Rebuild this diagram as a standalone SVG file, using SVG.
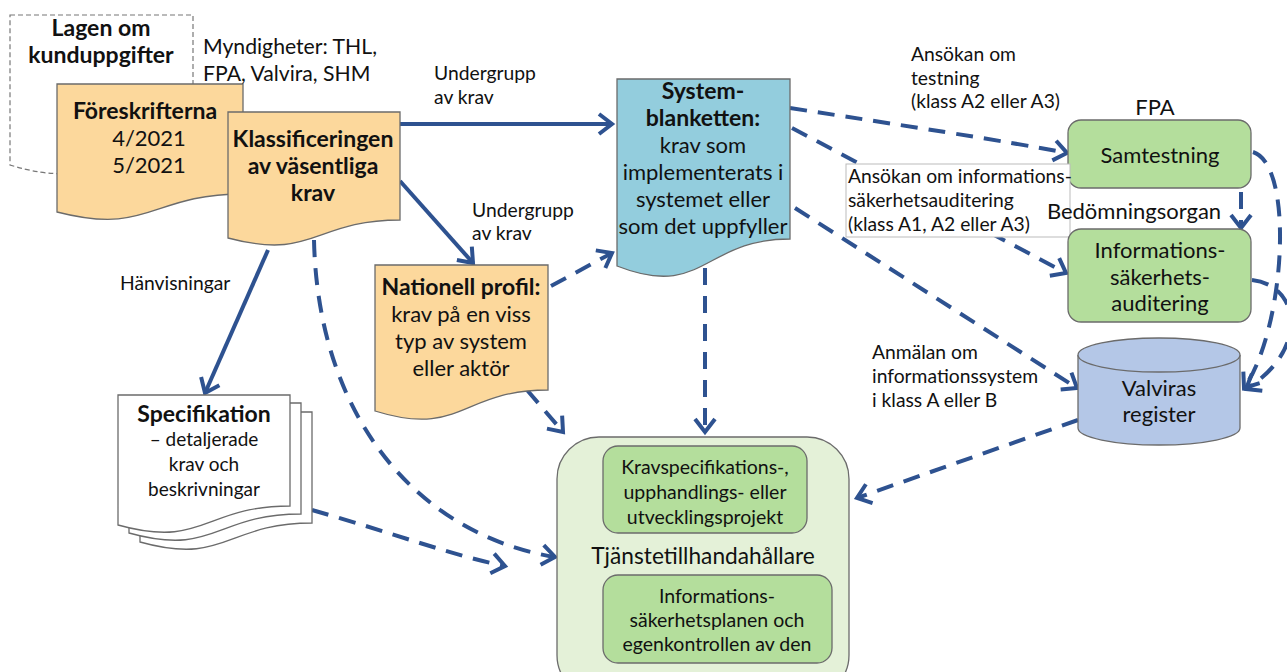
<svg xmlns="http://www.w3.org/2000/svg" width="1287" height="672" viewBox="0 0 1287 672">
<defs>
<style>
text{font-family:Lato,"Liberation Sans",sans-serif;fill:#111;}
.n{font-size:22px;text-anchor:middle;}
.b{font-weight:bold;font-size:23px;}
.s{font-size:19px;}
.l{font-size:19.3px;}
.doc{stroke:#6b6b6b;stroke-width:1.3;}
.or{fill:#FCD89C;}
.c{fill:none;stroke:#2E5290;stroke-width:4;}
.d{stroke-dasharray:17 11;}
.g{fill:#B4DE9C;stroke:#6b6b6b;stroke-width:1.3;}
</style>
<marker id="ah" markerUnits="userSpaceOnUse" markerWidth="30" markerHeight="30" viewBox="-20 -15 30 30" refX="0" refY="0" orient="auto">
<path d="M-13,-10 L0,0 L-13,10" fill="none" stroke="#2E5290" stroke-width="4" stroke-dasharray="none"/>
</marker>
</defs>
<rect width="1287" height="672" fill="#fff"/>

<g id="connectors">
<path class="c" d="M400,124 H612" marker-end="url(#ah)"/>
<path class="c" d="M400,181 L473,263" marker-end="url(#ah)"/>
<path class="c" d="M268,250 L205,393" marker-end="url(#ah)"/>
<path class="c d" d="M551,286 L612,253" marker-end="url(#ah)"/>
<path class="c d" d="M527,390 L563,432" marker-end="url(#ah)"/>
<path class="c d" d="M705,268 V432" marker-end="url(#ah)"/>
<path class="c d" d="M314,240 C318,420 420,535 555,557" marker-end="url(#ah)"/>
<path class="c d" d="M312,510 C400,535 450,555 505,566" marker-end="url(#ah)"/>
<path class="c d" d="M790,108 C900,125 1000,140 1067,153" marker-end="url(#ah)"/>
<path class="c d" d="M792,128 L1066,273" marker-end="url(#ah)"/>
<path class="c d" d="M795,208 L1077,388" marker-end="url(#ah)"/>
<path class="c d" d="M1078,420 L857,498" marker-end="url(#ah)"/>
<path class="c d" d="M1253,152 C1295,165 1285,330 1244,388" marker-end="url(#ah)"/>
<path class="c d" d="M1252,280 C1300,285 1310,350 1246,389" marker-end="url(#ah)"/>
<path class="c d" d="M1241,192 V228" marker-end="url(#ah)"/>
</g>

<g id="lagen">
<path d="M10,15 H193 V144 C101.5,144 101.5,193 10,165 Z" fill="#fff" stroke="#777" stroke-width="1.2" stroke-dasharray="5 3"/>
<text class="n b" x="101" y="36">Lagen om</text>
<text class="n b" x="101" y="63">kunduppgifter</text>
</g>

<g id="foreskrifterna">
<path class="doc or" d="M57,84 H243 V194 C150,194 150,236 57,212 Z"/>
<text class="n b" x="145" y="119">Föreskrifterna</text>
<text class="n" x="149" y="146">4/2021</text>
<text class="n" x="149" y="173">5/2021</text>
</g>

<g id="klassificeringen">
<path class="doc or" d="M228,112 H400 V220 C314,220 314,261 228,238 Z"/>
<text class="n b" x="313" y="147">Klassificeringen</text>
<text class="n b" x="313" y="174">av väsentliga</text>
<text class="n b" x="313" y="201">krav</text>
</g>

<g id="systemblanketten">
<path class="doc" fill="#93CDDD" d="M617,79 H790 V239 C703.5,239 703.5,300 617,266 Z"/>
<text class="n b" x="703" y="99">System-</text>
<text class="n b" x="703" y="126">blanketten:</text>
<text class="n" x="703" y="153">krav som</text>
<text class="n" x="703" y="180">implementerats i</text>
<text class="n" x="703" y="207">systemet eller</text>
<text class="n" x="703" y="234">som det uppfyller</text>
</g>

<g id="nationell">
<path class="doc or" d="M375,265 H548 V390 C461.5,390 461.5,438 375,411 Z"/>
<text class="n b" x="461" y="295">Nationell profil:</text>
<text class="n" x="461" y="322">krav på en viss</text>
<text class="n" x="461" y="349">typ av system</text>
<text class="n" x="461" y="376">eller aktör</text>
</g>

<g id="specifikation">
<path class="doc" fill="#fff" d="M140,412 H312 V523 C226,523 226,566 140,542 Z"/>
<path class="doc" fill="#fff" d="M129,403 H301 V514 C215,514 215,557 129,533 Z"/>
<path class="doc" fill="#fff" d="M118,395 H290 V506 C204,506 204,549 118,525 Z"/>
<text class="n b" x="204" y="422">Specifikation</text>
<text class="n s" x="204" y="446">– detaljerade</text>
<text class="n s" x="204" y="471">krav och</text>
<text class="n s" x="204" y="496">beskrivningar</text>
</g>

<g id="tjanste">
<rect x="557" y="437" width="292" height="260" rx="42" fill="#E4F1D8" stroke="#6b6b6b" stroke-width="1.3"/>
<text class="n" x="703" y="564" style="font-size:22.7px">Tjänstetillhandahållare</text>
</g>

<g id="kravspec">
<rect class="g" x="603" y="446" width="204" height="87" rx="15"/>
<text class="n" x="705" y="474" style="font-size:19.5px">Kravspecifikations-,</text>
<text class="n" x="705" y="499" style="font-size:19.5px">upphandlings- eller</text>
<text class="n" x="705" y="524" style="font-size:19.5px">utvecklingsprojekt</text>
</g>

<g id="infoplan">
<rect class="g" x="603" y="575" width="229" height="88" rx="15"/>
<text class="n" x="717" y="603" style="font-size:19.5px">Informations-</text>
<text class="n" x="717" y="627" style="font-size:19.5px">säkerhetsplanen och</text>
<text class="n" x="717" y="651" style="font-size:19.5px">egenkontrollen av den</text>
</g>

<g id="samtestning">
<text class="n" x="1155" y="115">FPA</text>
<rect class="g" x="1068" y="120" width="183" height="68" rx="13"/>
<text class="n" x="1160" y="163">Samtestning</text>
</g>

<g id="labels">
<text class="l" x="203" y="54" style="font-size:21.2px">Myndigheter: THL,</text>
<text class="l" x="203" y="81" style="font-size:21.2px">FPA, Valvira, SHM</text>
<text class="l" x="434" y="80">Undergrupp</text>
<text class="l" x="434" y="104">av krav</text>
<text class="l" x="472" y="217">Undergrupp</text>
<text class="l" x="472" y="240">av krav</text>
<text class="l" x="120" y="290">Hänvisningar</text>
<text class="l" x="911" y="61">Ansökan om</text>
<text class="l" x="911" y="85">testning</text>
<text class="l" x="911" y="108">(klass A2 eller A3)</text>
<rect x="846" y="164" width="224" height="73" fill="#fff" stroke="#bbb" stroke-width="1"/>
<text class="l" x="848" y="183">Ansökan om informations-</text>
<text class="l" x="848" y="207">säkerhetsauditering</text>
<text class="l" x="848" y="231">(klass A1, A2 eller A3)</text>
<text class="l" x="872" y="359">Anmälan om</text>
<text class="l" x="872" y="383">informationssystem</text>
<text class="l" x="872" y="407">i klass A eller B</text>
</g>

<g id="infoaudit">
<text class="n" x="1134" y="219">Bedömningsorgan</text>
<rect class="g" x="1068" y="229" width="183" height="93" rx="13"/>
<text class="n" x="1160" y="258">Informations-</text>
<text class="n" x="1160" y="285">säkerhets-</text>
<text class="n" x="1160" y="311">auditering</text>
</g>

<g id="valviras">
<path d="M1078,355 V428 A81,17 0 0 0 1240,428 V355" fill="#B4C7E7" stroke="#6b6b6b" stroke-width="1.3"/>
<ellipse cx="1159" cy="355" rx="81" ry="17" fill="#B4C7E7" stroke="#6b6b6b" stroke-width="1.3"/>
<text class="n" x="1159" y="396">Valviras</text>
<text class="n" x="1159" y="422">register</text>
</g>
</svg>
